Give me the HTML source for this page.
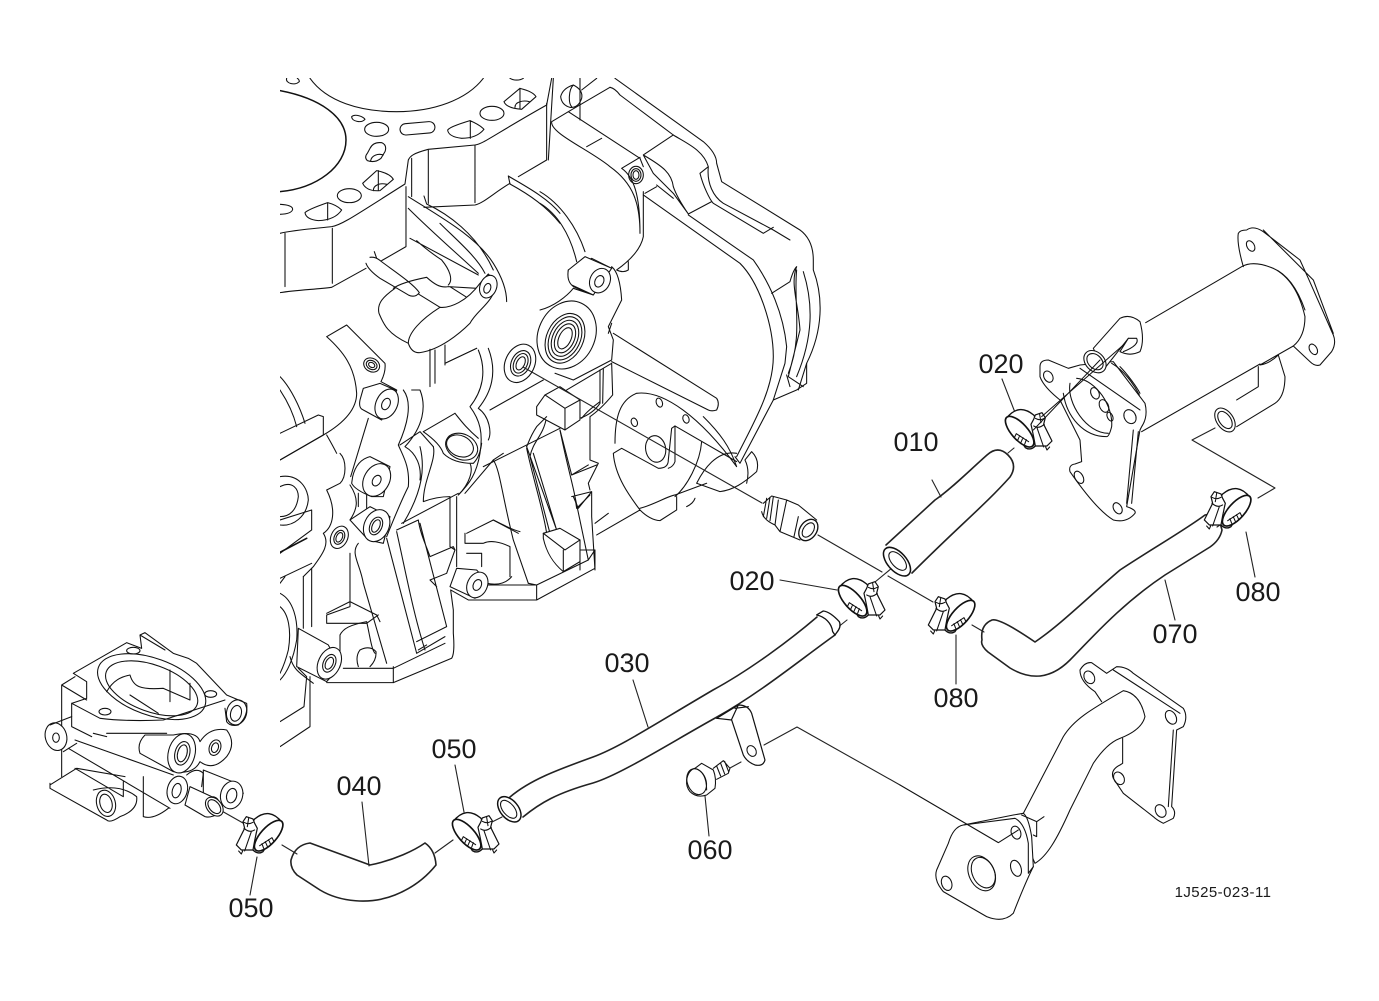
<!DOCTYPE html>
<html><head><meta charset="utf-8"><style>
html,body{margin:0;padding:0;background:#fff;width:1379px;height:1001px;overflow:hidden}
svg{display:block}
path,ellipse,rect,line{fill:none;stroke:#111;stroke-linejoin:round;stroke-linecap:round}
.z path,.z ellipse,.z rect{stroke-width:3.2}
.f{fill:#fff!important}
.r path{stroke-width:1.1;stroke:#222}
text{font-family:"Liberation Sans",sans-serif;font-size:27px;fill:#1a1a1a;text-anchor:middle}
</style></head><body>
<svg width="1379" height="1001" viewBox="0 0 1379 1001" xmlns="http://www.w3.org/2000/svg">
<defs><clipPath id="eng"><rect x="280" y="78" width="640" height="680"/></clipPath>
<g id="clampA" class="z">
<path class="f" d="M358 322Q395 275 440 312Q455 330 445 405Q430 420 415 410Z" style="stroke-width:4"/>
<ellipse class="f" cx="398" cy="362" rx="24" ry="58" transform="rotate(-42 398 362)" style="stroke-width:5"/>
<path d="M388 368L425 392M388 368L382 380M398 374L392 388M408 380L402 394M418 386L413 400"/>
<path class="f" d="M432 340L440 325L445 312L465 305L475 320L470 340L495 390L480 405L470 405L445 405Q440 375 432 340Z" style="stroke-width:3.6"/>
<path d="M440 345Q455 355 472 340M450 350L470 408M458 310L462 335M476 408L480 417L488 408M445 322Q458 330 472 322"/>
</g></defs>

<!-- ENGINE -->
<g clip-path="url(#eng)">
<g class="z" transform="translate(280,70) scale(.3333)">
<path d="M0 62C120 85 198 140 198 210C198 290 110 355 0 365" style="stroke-width:4.5"/>
<path d="M90 25C140 95 240 125 350 125C460 125 560 90 610 25M20 25C15 40 45 48 58 35C58 30 55 27 52 25M690 25C700 32 720 32 730 25"/>
<path d="M215 140C225 130 250 140 255 148C245 160 215 155 215 140Z"/>
<ellipse cx="290" cy="178" rx="36" ry="21"/>
<rect x="360" y="158" width="105" height="34" rx="17" transform="rotate(-5 412 175)"/>
<path d="M503 180Q510 170 570 152Q600 165 612 178Q590 205 545 205Q505 200 503 180ZM571 152V205"/>
<ellipse cx="636" cy="130" rx="36" ry="21"/>
<path d="M672 95L720 55Q760 65 768 80L725 118Q680 115 672 95ZM720 55V115M705 112C705 95 730 90 748 95"/>
<path d="M270 235Q280 215 305 218Q322 225 315 245L303 265Q285 280 262 272Q252 262 262 250ZM272 272C275 255 295 250 310 255"/>
<path d="M248 340L290 302Q330 310 340 328L300 362Q260 365 248 340ZM295 302V362M280 362C280 345 300 338 320 343"/>
<ellipse cx="208" cy="377" rx="36" ry="21"/>
<path d="M0 403Q38 405 38 418Q35 432 0 433"/>
<path d="M75 428Q85 418 143 398Q170 405 185 420Q165 450 115 452Q78 448 75 428ZM143 398V450"/>
<path d="M0 490C40 480 110 475 155 470C185 465 220 440 375 342L385 270C390 258 400 250 445 238L585 225C610 222 640 195 800 105L815 25"/>
<path d="M15 490V650M157 475V640M0 668C50 660 110 658 155 652L258 595M305 572L378 530V350M395 265V380M445 240V400M585 225V398M432 412L585 405C610 400 640 370 690 340M715 320L800 270V100"/>
<path d="M685 318C720 340 800 380 840 430M690 342C750 375 800 410 840 460M685 318L690 342"/>
<path d="M258 580Q265 600 300 625L385 675Q405 685 418 668C400 640 330 595 298 570Q285 560 270 562M283 545L290 565"/>
<path d="M385 380C480 440 590 500 640 580C665 620 680 660 680 695M385 415C450 480 530 550 595 610M432 378L440 402C500 430 590 490 640 600M480 460C530 510 590 560 615 610M390 505L595 615M410 512C440 540 470 560 485 570C510 600 520 630 505 645M340 655C360 640 400 630 440 622C460 640 480 655 505 650L590 655M510 650L565 685M415 672L480 712"/>
<path class="f" d="M345 655C310 680 290 700 297 730C310 760 320 790 385 820Q395 850 420 848C480 840 540 790 570 760C590 720 640 700 650 640L625 612L600 640C560 695 510 715 480 712C420 750 385 790 385 820"/>
<ellipse class="f" cx="625" cy="650" rx="25" ry="35" transform="rotate(20 625 650)"/>
<ellipse cx="622" cy="655" rx="10" ry="15" transform="rotate(20 622 655)"/>
<path d="M495 825V885M465 840V940M450 838V950M495 880L590 835"/>
</g>

<g class="z" transform="translate(540,70) scale(.3333)">
<path d="M0 365C60 400 110 470 135 545M0 400C50 430 90 490 110 575"/>
<path d="M62 80Q68 55 100 45Q130 60 125 85Q115 115 90 112Q65 105 62 80ZM100 45C85 60 85 100 95 110M125 60L170 25M120 25V150M40 25L25 270"/>
<path d="M225 25L490 215Q530 250 530 280L545 335L780 480Q820 510 820 570V600C850 680 850 780 800 880V940L770 960L700 990"/>
<path d="M210 52Q225 55 240 75L400 195C440 220 490 240 505 290M480 310L505 290C500 340 520 380 550 400L700 480L750 510M480 310C490 350 510 390 520 400L670 490L700 472"/>
<path d="M400 195L310 255L340 310L400 370L445 432L515 395M310 255C370 290 395 310 400 350C410 380 430 410 445 432"/>
<path d="M35 155L85 125L210 52M35 155C30 190 150 240 210 290C280 340 300 400 300 490M85 125L300 265L310 290M140 230L185 205M245 295L300 262M245 295C280 320 300 370 300 490M310 365V500Q300 550 230 600Q250 610 265 600V575M315 370L350 350"/>
<ellipse cx="288" cy="315" rx="22" ry="26"/><ellipse cx="288" cy="315" rx="15" ry="19"/><ellipse cx="288" cy="315" rx="9" ry="13"/>
<path d="M310 375L600 580C660 640 700 770 700 860C700 960 640 1060 590 1160M350 345L400 385M445 435L640 570C690 640 730 730 740 830L735 880L700 990L600 1180L585 1160M695 670L750 635Q760 600 770 590C750 640 775 700 780 780L745 920L790 950M770 600C760 700 790 800 745 910M790 605C820 700 820 800 770 920M800 880L775 960M740 915L750 950"/>
<path d="M225 1120C225 1040 240 990 290 970C370 960 480 1040 590 1190C570 1130 540 1090 490 1040"/>
<ellipse cx="358" cy="998" rx="9" ry="14" transform="rotate(-20 358 998)"/><ellipse cx="283" cy="1057" rx="9" ry="13" transform="rotate(-20 283 1057)"/><ellipse cx="438" cy="1047" rx="9" ry="13" transform="rotate(-20 438 1047)"/>
<path d="M395 1075L405 1068L590 1175M395 1075L385 1170Q385 1195 355 1195L245 1135L220 1150C225 1220 270 1280 300 1320M405 1068V1175Q400 1190 385 1195M485 1115C480 1180 440 1250 405 1280M590 1150C530 1140 490 1200 470 1240L540 1265C580 1260 610 1240 650 1205Q660 1170 635 1145L615 1170Q630 1200 620 1240M300 1315C340 1305 380 1280 405 1275L500 1240M300 1320Q330 1350 360 1352L410 1320V1280M440 1310Q460 1300 465 1285M170 1395L300 1320M165 1360L205 1330"/>
<ellipse cx="347" cy="1137" rx="30" ry="40" transform="rotate(-10 347 1137)"/>
<path d="M215 760L205 790M220 790L530 985Q540 1000 530 1020Q515 1025 505 1020L215 875M215 880L80 960M180 900V1000Q160 1030 120 1045M190 895L188 1000M215 880L218 975Q180 1020 150 1040M150 1040V1170L175 1180L145 1240L150 1260M60 1080L95 1215L145 1185M95 1280L155 1265M100 1280L115 1315L155 1265V1340L165 1500M120 1410V1500"/>
<ellipse class="f" cx="80" cy="795" rx="85" ry="105" transform="rotate(25 80 795)"/>
<ellipse cx="75" cy="805" rx="55" ry="78" transform="rotate(25 75 805)"/>
<ellipse cx="75" cy="805" rx="46" ry="68" transform="rotate(25 75 805)"/><ellipse cx="75" cy="805" rx="37" ry="57" transform="rotate(25 75 805)"/><ellipse cx="75" cy="805" rx="28" ry="46" transform="rotate(25 75 805)"/><ellipse cx="75" cy="805" rx="18" ry="34" transform="rotate(25 75 805)"/>
<path d="M205 770Q230 720 245 690Q240 610 215 590L215 595L155 565L85 600Q80 630 100 650L160 675L100 655C80 680 40 710 0 720M205 770L220 810L215 870L100 930L45 910"/>
<path class="f" d="M85 600Q80 630 95 645L160 675L215 595L135 560Z"/>
<ellipse class="f" cx="180" cy="632" rx="30" ry="38" transform="rotate(25 180 632)"/>
<ellipse cx="178" cy="634" rx="13" ry="18" transform="rotate(25 178 634)"/>
</g>

<g class="z" transform="translate(280,320) scale(.3333)">
<path d="M140 50L200 15L315 130Q318 155 303 185L350 210M140 50C190 95 225 140 230 220C230 270 190 310 130 345L0 420"/>
<ellipse cx="275" cy="135" rx="25" ry="20" transform="rotate(30 275 135)"/><ellipse cx="275" cy="135" rx="17" ry="13" transform="rotate(30 275 135)"/><ellipse cx="275" cy="135" rx="10" ry="7" transform="rotate(30 275 135)"/>
<path d="M265 295L212 470"/>
<path class="f" d="M250 205L300 190L350 212L305 300L250 270Q235 265 240 240Z"/>
<ellipse class="f" cx="320" cy="252" rx="32" ry="47" transform="rotate(25 320 252)"/>
<ellipse cx="318" cy="252" rx="12" ry="18" transform="rotate(25 318 252)"/>
<path d="M495 130L590 85M430 335L525 280M630 270L790 180M365 610L535 520M610 440L840 325M560 640L640 600C680 620 700 630 720 635M140 345C160 380 165 390 170 400M180 400C200 420 200 470 180 490L140 510M140 510C170 570 160 620 130 640C150 670 130 700 100 740L70 770M210 495C240 540 230 570 210 600M235 520V560M260 525V565"/>
<path d="M370 210C400 250 380 320 355 375C370 410 390 440 385 500C360 550 340 600 320 650M395 210H420C440 260 430 320 375 380C410 400 425 440 420 480M420 380C435 440 430 510 370 610M595 90C620 150 610 210 570 260C600 300 610 340 600 400C590 460 570 490 535 525M625 85C650 150 640 210 595 265C630 290 635 340 625 360M525 280C545 305 560 325 595 355M360 375L420 335L460 380"/>
<path d="M460 380C470 420 430 480 430 545Q470 530 510 530M430 335Q480 370 490 400Q520 430 580 430Q600 410 605 370M570 430C580 450 570 490 535 525M510 530V680L525 690M530 530V740M555 520L640 420"/>
<ellipse class="f" cx="545" cy="380" rx="50" ry="38" transform="rotate(25 545 380)"/>
<ellipse cx="540" cy="378" rx="42" ry="31" transform="rotate(25 540 378)"/>
<path class="f" d="M218 470Q230 420 270 410L330 440L310 530L275 530Q225 510 215 490Z"/>
<ellipse class="f" cx="290" cy="480" rx="38" ry="52" transform="rotate(30 290 480)"/>
<ellipse cx="290" cy="482" rx="12" ry="17" transform="rotate(30 290 482)"/>
<path class="f" d="M210 600L270 560L330 590L310 670L265 660Z"/>
<ellipse class="f" cx="290" cy="617" rx="37" ry="50" transform="rotate(25 290 617)"/>
<ellipse cx="288" cy="618" rx="18" ry="28" transform="rotate(25 288 618)"/><ellipse cx="288" cy="618" rx="11" ry="20" transform="rotate(25 288 618)"/>
<ellipse class="f" cx="178" cy="652" rx="25" ry="35" transform="rotate(25 178 652)"/>
<ellipse cx="178" cy="652" rx="15" ry="22" transform="rotate(25 178 652)"/><ellipse cx="178" cy="652" rx="9" ry="15" transform="rotate(25 178 652)"/>
<path d="M640 420L670 400M640 420C660 450 665 520 700 660L745 790M740 380L830 630M760 400L830 630M740 385C760 480 790 570 800 640M800 290C790 350 760 360 750 410L810 640M840 330C860 430 880 500 885 530L925 720M875 465L950 435M885 530L890 565L930 525"/>
<path class="f" d="M770 260L795 225L840 200L900 240V300L855 330L770 285Z"/>
<path d="M795 225L855 265L900 240M855 265V330M800 290L770 320C750 350 745 370 740 380M905 295C920 275 940 260 960 245"/>
<path class="f" d="M790 655L790 640L840 625L900 660V725L850 755C820 730 800 700 790 655Z"/>
<path d="M790 640L855 690L900 660M850 690V755M900 690L945 690V745L770 840H565L512 810L520 870V940Q525 1000 515 1015L340 1088H140M620 795H770L925 720L945 690M770 795V840M770 795L745 790"/>
<path d="M210 700V860L140 885V910H260L295 885M235 670C210 700 240 730 250 790L320 1030M320 655L410 1000M350 635C380 770 400 880 435 990M350 630L415 600C420 640 440 680 450 710L520 680L525 690L500 760L450 780L470 800M420 610L500 920L410 965M415 990L440 975M410 1000L495 950M210 845L290 885M140 880L210 845L290 885L300 905M190 1045H340L495 970M340 1040V1088M555 670H610C630 660 660 665 690 680V770M555 670V640M640 600L715 640M620 790Q670 800 695 770M560 700L605 700V740"/>
<path d="M180 945C190 925 210 915 260 905C270 950 275 990 285 1000M180 1040V945M235 1040Q225 1010 240 990Q270 975 288 995Q290 1020 270 1040"/>
<path class="f" d="M530 745L590 750L625 790L585 835L510 800Z"/>
<ellipse class="f" cx="592" cy="795" rx="30" ry="40" transform="rotate(25 592 795)"/>
<ellipse cx="592" cy="795" rx="12" ry="17" transform="rotate(25 592 795)"/>
<path d="M0 170C30 200 60 260 75 310M0 210C20 240 40 280 50 320M0 340L115 285L130 290V345L0 420M0 470C60 460 85 510 85 540C80 590 40 620 0 615M0 500C40 480 55 510 55 530C50 570 30 590 0 590M0 600L95 570V630L0 700M0 775L95 730M70 770V925M95 745V920M0 790L15 770"/>
<path d="M0 697L80 655" style="stroke-width:5"/>
<path d="M0 820C40 840 55 900 50 960C40 1020 20 1060 0 1080M0 860C25 880 35 930 25 990C15 1030 5 1050 0 1060M55 1045L80 1070L72 1160L0 1205M90 1070V1220L0 1280M30 1010C40 1050 60 1060 100 1090"/>
<path class="f" d="M55 925L145 975L180 1040L140 1085L120 1075L50 1040Z"/>
<ellipse class="f" cx="148" cy="1030" rx="33" ry="50" transform="rotate(25 148 1030)"/>
<ellipse cx="148" cy="1030" rx="18" ry="28" transform="rotate(25 148 1030)"/><ellipse cx="148" cy="1030" rx="11" ry="19" transform="rotate(25 148 1030)"/>
<ellipse class="f" cx="720" cy="130" rx="44" ry="60" transform="rotate(25 720 130)"/>
<ellipse cx="722" cy="130" rx="28" ry="40" transform="rotate(25 722 130)"/><ellipse cx="722" cy="130" rx="20" ry="31" transform="rotate(25 722 130)"/><ellipse cx="722" cy="130" rx="12" ry="21" transform="rotate(25 722 130)"/>
</g>
</g>

<!-- AXIS & LEADER LINES -->
<g class="r">
<path d="M523 367L762 503M818 535L882 572M888 576L933 602M875 582L892 568M837 628L847 620M972 625L984 632M1217 527L1230 518M1275 488L1192 440L1215 428M1258 498L1275 488M1008 453L1014 448M220 810L243 823M282 845L297 854M435 853L453 840M492 822L502 817M764 745L797 727L900 785M730 768L741 762"/>
<path d="M780 580L837 590M956 635V684M1002 379L1016 415M1246 532L1255 577M455 765L464 812M257 857L250 895M705 796L709 836M633 680L648 727M1165 580L1175 620M932 480L941 497M362 802L369 866"/>
</g>

<!-- THERMOSTAT HOUSING -->
<g class="z" transform="translate(30,620) scale(.3333)">
<path d="M130 160L290 68L335 85L330 45L345 38L430 100L475 115L500 130L590 225L650 250Q655 290 625 315Q600 320 590 305L585 265M130 160L170 185V235L125 250M95 195L135 170M95 195V470M95 195L170 240M125 250L210 295Q290 305 400 300L585 240M125 250V320L185 350M330 45L405 90"/>
<ellipse cx="365" cy="200" rx="170" ry="85" transform="rotate(20 365 200)"/>
<ellipse cx="365" cy="205" rx="145" ry="70" transform="rotate(20 365 205)"/>
<path d="M230 215C250 180 275 170 300 165C310 200 330 210 400 205L480 240M300 225L385 280M420 150V245M480 190V240"/>
<ellipse cx="310" cy="92" rx="20" ry="10"/><ellipse cx="542" cy="222" rx="18" ry="10"/><ellipse cx="225" cy="275" rx="18" ry="10"/>
<ellipse cx="620" cy="277" rx="30" ry="38" transform="rotate(15 620 277)"/><ellipse cx="618" cy="280" rx="16" ry="24" transform="rotate(15 618 280)"/>
<ellipse class="f" cx="78" cy="350" rx="32" ry="42" transform="rotate(-15 78 350)"/><ellipse cx="78" cy="353" rx="10" ry="14"/>
<path d="M60 315L125 290M100 395L140 370M115 385L420 565M135 360L430 465M60 495L140 445L285 470M135 445L280 530V485M60 490V505L230 600M340 590V470M340 590Q370 600 415 565M190 510Q270 490 320 530Q325 570 270 590Q240 610 230 600M190 340L230 350M230 340H410"/>
<path class="f" d="M430 345Q500 330 510 365Q540 320 590 330Q620 370 590 410Q550 455 510 425Q490 465 430 455L330 400Q320 370 345 345Z"/>
<ellipse class="f" cx="455" cy="400" rx="40" ry="60" transform="rotate(15 455 400)"/>
<ellipse cx="457" cy="400" rx="22" ry="36" transform="rotate(15 457 400)"/><ellipse cx="457" cy="400" rx="14" ry="26" transform="rotate(15 457 400)"/>
<ellipse cx="555" cy="383" rx="17" ry="24" transform="rotate(20 555 383)"/><ellipse cx="555" cy="383" rx="10" ry="15" transform="rotate(20 555 383)"/>
<ellipse cx="228" cy="550" rx="28" ry="40" transform="rotate(-15 228 550)"/><ellipse cx="228" cy="550" rx="18" ry="28" transform="rotate(-15 228 550)"/>
<path class="f" d="M520 450L620 490L640 520L600 565L520 530Z"/>
<ellipse class="f" cx="605" cy="525" rx="33" ry="42" transform="rotate(15 605 525)"/><ellipse cx="605" cy="527" rx="15" ry="22" transform="rotate(15 605 527)"/>
<ellipse class="f" cx="442" cy="510" rx="30" ry="42" transform="rotate(15 442 510)"/><ellipse cx="440" cy="512" rx="13" ry="22" transform="rotate(15 440 512)"/>
<path class="f" d="M480 500L545 530Q575 530 570 580Q540 595 525 590L465 555Z"/>
<path d="M470 465Q500 440 520 460L515 500"/>
<ellipse class="f" cx="553" cy="560" rx="22" ry="32" transform="rotate(-40 553 560)"/><ellipse cx="553" cy="560" rx="15" ry="24" transform="rotate(-40 553 560)"/>
</g>

<!-- HOSES -->
<g class="r">
<path style="stroke-width:1.6" d="M886 545L935 500C950 490 970 470 987 455Q998 445 1008 455Q1018 465 1010 477C985 505 960 525 912 573"/>
<path style="stroke-width:1.6" d="M982 640Q980 625 992 620Q1000 618 1035 642C1060 625 1085 600 1120 570C1150 550 1185 530 1205 515Q1218 512 1222 530Q1220 540 1210 547L1165 575C1120 605 1090 640 1070 660C1050 680 1030 680 1010 668L988 652Q980 645 982 640Z"/>
<path style="stroke-width:1.6" d="M291 860Q295 845 310 843L370 865C395 860 415 850 425 843Q435 850 436 865Q420 885 395 895C370 905 340 902 320 890L297 875Q290 868 291 860Z"/>
<path style="stroke-width:1.6" d="M510 797C530 780 557 770 593 757C620 747 650 727 713 690C750 670 790 640 817 617M523 817C540 803 557 793 593 783C620 775 670 743 717 717C760 693 800 660 835 635"/>
</g>
<g class="z" transform="translate(720,480) scale(.3333)">
<ellipse class="f" cx="531" cy="245" rx="28" ry="52" transform="rotate(-42 531 245)" style="stroke-width:4.6"/>
<ellipse cx="533" cy="243" rx="18" ry="34" transform="rotate(-42 533 243)"/>
<path class="f" style="stroke-width:4" d="M290 405L310 393Q330 395 358 425Q365 440 350 458L345 465L338 455C335 430 315 410 290 405Z"/>
<path d="M130 70L155 48L200 60L235 75L290 120M125 95Q130 120 165 135L180 155L240 180M140 55L130 110M150 52L140 115M160 50L150 122M175 60L165 135M200 60L180 155M235 110L222 170"/>
<ellipse class="f" cx="265" cy="150" rx="25" ry="35" transform="rotate(35 265 150)" style="stroke-width:4"/>
<ellipse cx="265" cy="150" rx="15" ry="24" transform="rotate(35 265 150)"/>
<use href="#clampA"/>
<use href="#clampA" transform="translate(1120,45) scale(-1,1)"/>
</g>
<g transform="translate(-386,234)"><g transform="translate(720,480) scale(.3333)"><use href="#clampA"/></g></g>
<g transform="translate(167,-169)"><g transform="translate(720,480) scale(.3333)"><use href="#clampA"/></g></g>
<g transform="translate(276,-105)"><g transform="translate(720,480) scale(.3333)"><use href="#clampA" transform="translate(1120,45) scale(-1,1)"/></g></g>
<g transform="translate(-692,220)"><g transform="translate(720,480) scale(.3333)"><use href="#clampA" transform="translate(1120,45) scale(-1,1)"/></g></g>

<!-- HOSE 030 END + BRACKET + BOLT -->
<g class="z" transform="translate(430,690) scale(.3333)">
<ellipse class="f" cx="238" cy="358" rx="27" ry="44" transform="rotate(-40 238 358)" style="stroke-width:4.4"/>
<ellipse cx="236" cy="358" rx="17" ry="32" transform="rotate(-40 236 358)"/>
<path d="M860 85L925 45Q955 45 965 70L1005 210Q1000 230 975 225Q950 215 940 195L905 90L860 85M925 45L905 88M915 55L955 50" style="stroke-width:3.6"/>
<ellipse cx="965" cy="183" rx="13" ry="17" transform="rotate(-30 965 183)"/>
<path d="M850 235L880 212L900 235L895 250L860 268M860 228L872 258M872 220L884 252M884 214L896 245"/>
<path class="f" d="M770 270Q775 240 795 235L815 220L850 240Q860 265 855 295L830 315Q800 325 780 305Q768 290 770 270Z"/>
<ellipse cx="800" cy="275" rx="28" ry="40" transform="rotate(-20 800 275)"/>
<path d="M795 235Q830 245 830 300"/>
</g>

<!-- COOLER -->
<g class="z" transform="translate(980,220) scale(.3333)">
<path d="M775 40Q780 30 800 30Q820 15 850 35L960 120L985 175L1060 345Q1070 370 1055 395L1020 435Q1005 440 990 425L940 378M775 40Q770 70 790 140M850 30L1000 180L1060 340"/>
<ellipse cx="812" cy="78" rx="11" ry="17" transform="rotate(-30 812 78)"/><ellipse cx="1000" cy="388" rx="11" ry="17" transform="rotate(-30 1000 388)"/>
<path d="M497 308L785 140Q820 120 880 145Q950 180 975 290Q975 350 940 378L840 435M880 145Q940 170 975 270M485 635L840 432M840 435Q870 430 895 405"/>
<path d="M835 440V500L770 540M895 405L915 470Q915 530 885 550L770 620"/>
<ellipse class="f" cx="735" cy="600" rx="25" ry="40" transform="rotate(-35 735 600)"/><ellipse cx="735" cy="600" rx="17" ry="29" transform="rotate(-35 735 600)"/>
<path class="f" d="M180 440Q180 420 205 420L265 445L300 435L400 425L495 550Q505 590 485 620L480 630L440 860Q470 870 465 880Q440 910 400 900Q350 870 270 755Q265 735 285 732L305 725L300 660L240 540Q190 500 180 470Z"/>
<ellipse cx="205" cy="470" rx="13" ry="18" transform="rotate(-30 205 470)"/><ellipse cx="450" cy="590" rx="17" ry="22" transform="rotate(-30 450 590)"/><ellipse cx="297" cy="772" rx="12" ry="20" transform="rotate(-30 297 772)"/><ellipse cx="413" cy="865" rx="12" ry="18" transform="rotate(-30 413 865)"/>
<path d="M460 630L440 850M475 635L455 850M300 445L480 570M420 440C440 460 470 500 480 520M395 430C430 450 460 490 478 525"/>
<path d="M250 520C260 590 310 650 380 650M270 490C260 550 320 640 385 640M290 475C350 480 400 560 395 620C390 640 385 650 380 650"/>
<ellipse cx="345" cy="520" rx="12" ry="18" transform="rotate(-25 345 520)"/><ellipse cx="372" cy="558" rx="13" ry="20" transform="rotate(-25 372 558)"/><ellipse cx="390" cy="590" rx="8" ry="14" transform="rotate(-25 390 590)"/>
<path class="f" d="M340 385L420 295Q450 280 480 305Q495 360 480 395Q450 410 420 395L445 355L370 450Z"/>
<path d="M445 355L470 355Q480 375 430 395"/>
<ellipse class="f" cx="345" cy="425" rx="28" ry="38" transform="rotate(-45 345 425)"/><ellipse cx="345" cy="425" rx="20" ry="28" transform="rotate(-45 345 425)"/>
<path d="M185 590L430 375M160 630L360 420" style="stroke-width:3"/>
</g>

<!-- PIPE -->
<g class="z" transform="translate(900,650) scale(.3333)">
<path d="M540 60Q555 35 575 38L620 70L650 50Q680 50 700 70L850 175Q865 200 850 230L830 240L815 470Q830 485 820 505L790 520Q770 510 760 500L670 430L640 385Q630 360 660 345L668 340V265M540 60Q540 95 585 125L605 155M820 240L805 470M640 60L840 190"/>
<ellipse cx="568" cy="82" rx="15" ry="20" transform="rotate(-30 568 82)"/><ellipse cx="813" cy="202" rx="15" ry="22" transform="rotate(-30 813 202)"/><ellipse cx="657" cy="385" rx="15" ry="20" transform="rotate(-30 657 385)"/><ellipse cx="782" cy="483" rx="15" ry="20" transform="rotate(-30 782 483)"/>
<path class="f" d="M370 490L490 260C520 210 570 180 670 122Q720 130 735 200Q725 240 660 265Q620 280 580 340L510 480C470 570 440 620 405 640L370 560Z"/>
<path class="f" d="M145 580Q160 530 190 525L340 495L370 490Q385 500 395 560L400 650Q375 700 340 790Q310 820 260 800L130 725Q100 690 110 660Z"/>
<path d="M190 525L345 505Q375 520 385 580V670L400 650M365 495L410 515V560L400 555M410 515L432 500"/>
<ellipse cx="348" cy="548" rx="14" ry="20" transform="rotate(-20 348 548)"/><ellipse cx="348" cy="655" rx="15" ry="25" transform="rotate(-20 348 655)"/><ellipse cx="140" cy="700" rx="15" ry="22" transform="rotate(-20 140 700)"/>
<ellipse cx="245" cy="670" rx="38" ry="55" transform="rotate(-25 245 670)"/><ellipse cx="250" cy="668" rx="33" ry="48" transform="rotate(-25 250 668)"/>
<path d="M0 405L295 578L355 540" style="stroke-width:3.2"/>
</g>

<!-- LABELS -->
<text x="1001" y="373">020</text>
<text x="916" y="451">010</text>
<text x="752" y="590">020</text>
<text x="627" y="672">030</text>
<text x="359" y="795">040</text>
<text x="454" y="758">050</text>
<text x="251" y="917">050</text>
<text x="710" y="859">060</text>
<text x="1175" y="643">070</text>
<text x="956" y="707">080</text>
<text x="1258" y="601">080</text>
<text x="1223" y="897" style="font-size:15px;letter-spacing:.45px">1J525-023-11</text>
</svg>
</body></html>
